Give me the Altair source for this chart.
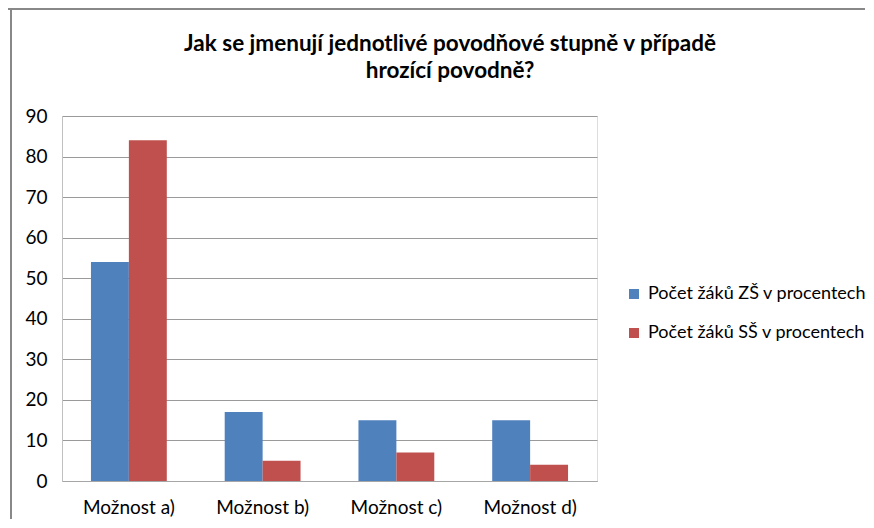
import altair as alt
import pandas as pd

categories = ["Možnost a)", "Možnost b)", "Možnost c)", "Možnost d)"]
series_names = ["Počet žáků ZŠ v procentech", "Počet žáků SŠ v procentech"]
zs_values = [54, 17, 15, 15]
ss_values = [84, 5, 7, 4]
y_ticks = [0, 10, 20, 30, 40, 50, 60, 70, 80, 90]
title_lines = ["Jak se jmenují jednotlivé povodňové stupně v případě", "hrozící povodně?"]

rows = []
for c, v in zip(categories, zs_values):
    rows.append({"kat": c, "serie": series_names[0], "hodnota": v})
for c, v in zip(categories, ss_values):
    rows.append({"kat": c, "serie": series_names[1], "hodnota": v})
df = pd.DataFrame(rows)

FONT = "Lato"
FS = 19

bars = alt.Chart(df).mark_bar().encode(
    x=alt.X("kat:N", sort=categories, title=None,
            scale=alt.Scale(paddingInner=0.433, paddingOuter=0.2165),
            axis=alt.Axis(labelAngle=0, ticks=False, domain=True, domainColor="#a6a6a6",
                          labelFontSize=FS, labelColor="#000000", labelPadding=17,
                          labelFont=FONT, grid=False)),
    xOffset=alt.XOffset("serie:N", sort=series_names, scale=alt.Scale(paddingInner=0, paddingOuter=0)),
    y=alt.Y("hodnota:Q", title=None,
            scale=alt.Scale(domain=[0, 90], nice=False),
            axis=alt.Axis(values=y_ticks, ticks=False, domain=True, domainColor="#c0c0c0",
                          labelFontSize=FS, labelColor="#000000", labelPadding=15,
                          labelFont=FONT, gridColor="#9a9a9a", gridWidth=1)),
    color=alt.Color("serie:N", sort=series_names,
                    scale=alt.Scale(domain=series_names, range=["#4F81BD", "#C0504D"]),
                    legend=alt.Legend(title=None, orient="none", legendX=563, legendY=169,
                                      symbolType="square", symbolSize=100, symbolStrokeWidth=0,
                                      labelFontSize=18, labelFont=FONT, labelColor="#000000",
                                      labelLimit=400, rowPadding=21, labelOffset=5)),
)

frame_top = alt.Chart(pd.DataFrame({"a": [0]})).mark_rule(color="#888888", strokeWidth=2).encode(
    x=alt.value(-54), x2=alt.value(830), y=alt.value(-107)
)
frame_left = alt.Chart(pd.DataFrame({"a": [0]})).mark_rule(color="#888888", strokeWidth=2).encode(
    x=alt.value(-51), y=alt.value(-107), y2=alt.value(420)
)

title1 = alt.Chart(pd.DataFrame({"a": [0]})).mark_text(
    font=FONT, fontSize=22.5, fontWeight="bold", color="#000000", align="center", baseline="alphabetic"
).encode(x=alt.value(388), y=alt.value(-65), text=alt.value(title_lines[0]))
title2 = alt.Chart(pd.DataFrame({"a": [0]})).mark_text(
    font=FONT, fontSize=22.5, fontWeight="bold", color="#000000", align="center", baseline="alphabetic"
).encode(x=alt.value(388), y=alt.value(-38), text=alt.value(title_lines[1]))

chart = alt.layer(bars, frame_top, frame_left, title1, title2).properties(
    width=535, height=365,
    autosize=alt.AutoSizeParams(type="none"),
    padding={"left": 54, "top": 108, "right": 268, "bottom": 38},
).configure_view(stroke=None).configure(background="white")

chart.save("out.html", embed_options={"renderer": "svg", "actions": False})
